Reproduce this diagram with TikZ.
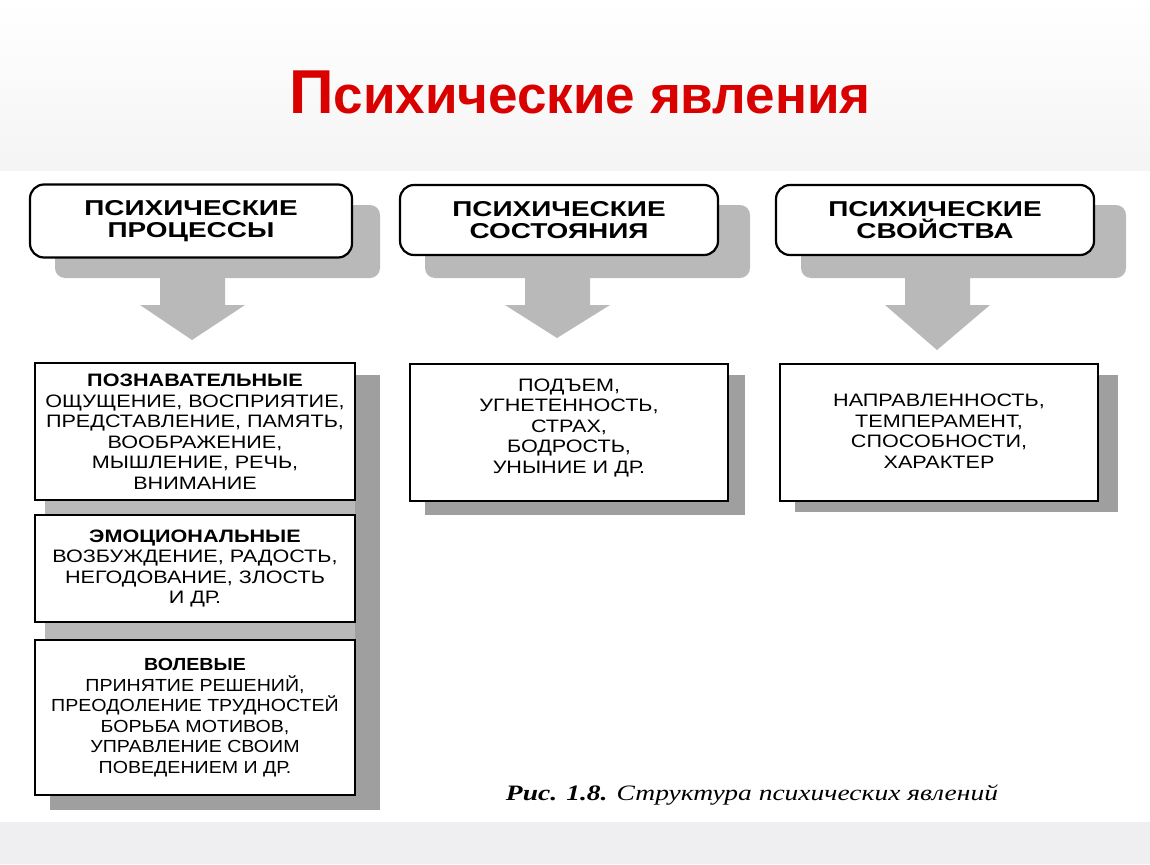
\documentclass[tikz,border=0pt]{standalone}
\usepackage{fontspec}
\setmainfont{Liberation Sans}
\newfontfamily\wideA[FakeStretch=1.2]{Liberation Sans}
\newfontfamily\wideC[FakeStretch=1.12]{Liberation Sans}
\newfontfamily\wideB[FakeStretch=1.3]{Liberation Sans}
\newfontfamily\capfont[FakeStretch=1.25]{Liberation Serif}
\begin{document}
\begin{tikzpicture}[x=1pt,y=-1pt,
  topbox/.style={draw=black,line width=2.2pt,rounded corners=14pt,fill=white,align=center,font=\wideB\bfseries\fontsize{21.5}{22}\selectfont},
  lowbox/.style={draw=black,line width=1.6pt,fill=white,align=center,font=\wideA\fontsize{18}{20.5}\selectfont},
  shade/.style={fill=gray!55},
  darkshade/.style={fill=gray!75}]
\useasboundingbox (0,0) rectangle (1150,864);
\shade[top color=white,bottom color=blue!4!gray!8] (0,0) rectangle (1150,170);
\fill[blue!6!gray!12] (0,822) rectangle (1150,864);
\node[font=\bfseries\fontsize{53}{58}\selectfont,text=red!85!black] (title) at (580,92)
  {{\fontsize{62}{66}\selectfont П}сихические явления};
\foreach \x/\ax/\tip in {30/140/340, 400/505/338, 776/885/350}{
  \fill[shade,rounded corners=10pt] (\x+25,205) rectangle (\x+350,278);
  \fill[shade] (\ax+20,270) -- (\ax+85,270) -- (\ax+85,305) -- (\ax+105,305) -- (\ax+52,\tip) -- (\ax,305) -- (\ax+20,305) -- cycle;
}
\node[topbox,minimum width=322pt,minimum height=73pt] (p1) at (191,221) {ПСИХИЧЕСКИЕ\\ПРОЦЕССЫ};
\node[topbox,minimum width=318pt,minimum height=70pt] (p2) at (559,220) {ПСИХИЧЕСКИЕ\\СОСТОЯНИЯ};
\node[topbox,minimum width=318pt,minimum height=70pt] (p3) at (935,220) {ПСИХИЧЕСКИЕ\\СВОЙСТВА};
\fill[darkshade] (355,375) rectangle (380,810);
\fill[darkshade] (50,795) rectangle (380,810);
\fill[darkshade] (728,375) rectangle (745,515);
\fill[darkshade] (425,500) rectangle (745,515);
\fill[darkshade] (1098,375) rectangle (1118,512);
\fill[darkshade] (795,500) rectangle (1118,512);
\fill[shade] (45,500) rectangle (355,515);
\fill[shade] (45,622) rectangle (355,640);
\node[lowbox,minimum width=320pt,minimum height=137pt] (a) at (195,431.5)
 {\textbf{ПОЗНАВАТЕЛЬНЫЕ}\\ОЩУЩЕНИЕ, ВОСПРИЯТИЕ,\\ПРЕДСТАВЛЕНИЕ, ПАМЯТЬ,\\ВООБРАЖЕНИЕ,\\МЫШЛЕНИЕ, РЕЧЬ,\\ВНИМАНИЕ};
\node[lowbox,minimum width=320pt,minimum height=107pt] (b) at (195,568.5)
 {\textbf{ЭМОЦИОНАЛЬНЫЕ}\\ВОЗБУЖДЕНИЕ, РАДОСТЬ,\\НЕГОДОВАНИЕ, ЗЛОСТЬ\\И ДР.};
\node[lowbox,minimum width=320pt,minimum height=155pt,inner sep=1pt,font=\wideC\fontsize{17.5}{20.5}\selectfont] (c) at (195,717.5)
 {\textbf{ВОЛЕВЫЕ}\\ПРИНЯТИЕ РЕШЕНИЙ,\\ПРЕОДОЛЕНИЕ ТРУДНОСТЕЙ\\БОРЬБА МОТИВОВ,\\УПРАВЛЕНИЕ СВОИМ\\ПОВЕДЕНИЕМ И ДР.};
\node[lowbox,minimum width=318pt,minimum height=137pt,anchor=north] (d) at (569,363) {};
\node[align=center,font=\wideA\fontsize{18}{20.5}\selectfont] (dt) at (569,428)
 {ПОДЪЕМ,\\УГНЕТЕННОСТЬ,\\СТРАХ,\\БОДРОСТЬ,\\УНЫНИЕ И ДР.};
\node[lowbox,minimum width=318pt,minimum height=137pt,anchor=north] (e) at (939,363) {};
\node[align=center,font=\wideA\fontsize{18}{20.5}\selectfont] (et) at (939,431)
 {НАПРАВЛЕННОСТЬ,\\ТЕМПЕРАМЕНТ,\\СПОСОБНОСТИ,\\ХАРАКТЕР};
\node[font=\capfont\bfseries\itshape\fontsize{22}{24}\selectfont] (cap) at (752,795)
 {Рис. 1.8. \mdseries Структура психических явлений};
\end{tikzpicture}
\end{document}
